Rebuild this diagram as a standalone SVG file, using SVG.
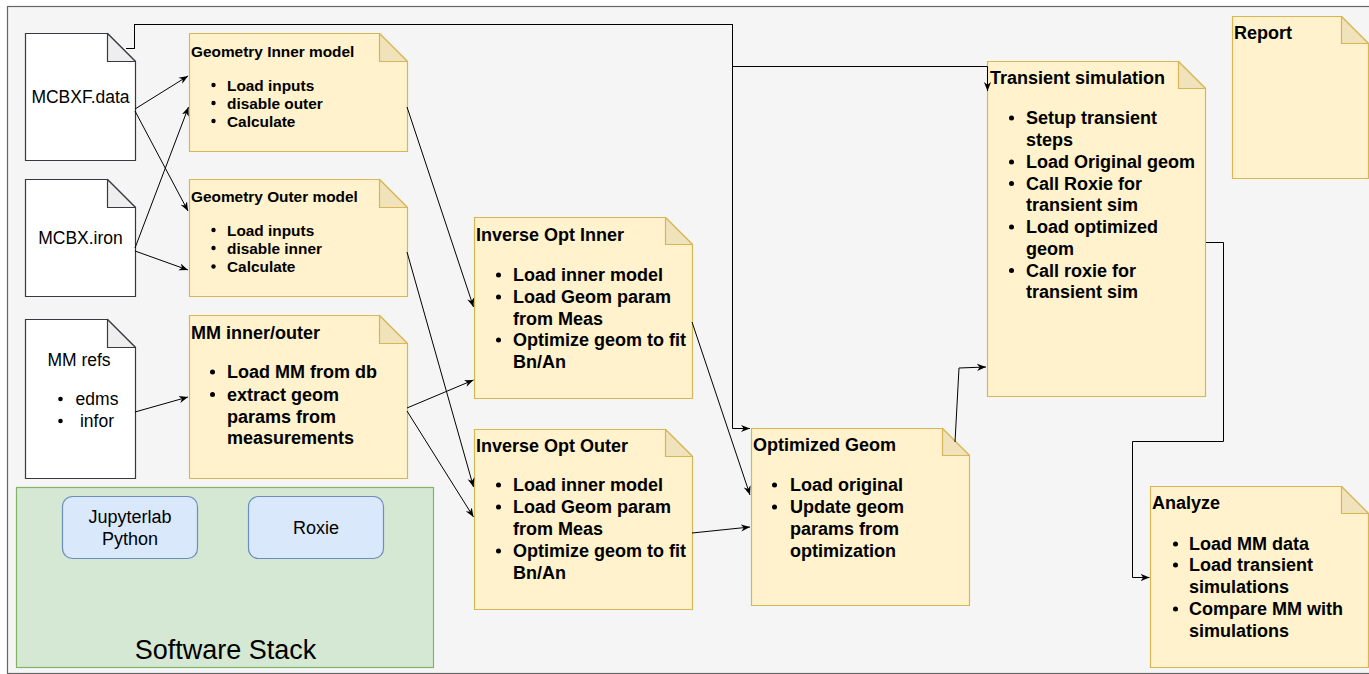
<svg xmlns="http://www.w3.org/2000/svg" width="1369" height="674" viewBox="0 0 1369 674">
  <style>
    text { font-family: "Liberation Sans", Arial, Helvetica, sans-serif; fill: #000; }
    .doc { fill: #ffffff; stroke: #36393d; stroke-width: 1.2; }
    .docfold { fill: #eeeeee; stroke: #36393d; stroke-width: 1.2; stroke-linejoin: round; }
    .note { fill: #fff2cc; stroke: #d6b656; stroke-width: 1.2; }
    .notefold { fill: #f0e2bb; stroke: #d6b656; stroke-width: 1.2; stroke-linejoin: round; }
    .tool { fill: #dae8fc; stroke: #6c8ebf; stroke-width: 1.2; }
    .t17 { font-size: 17.5px; }
    .t18 { font-size: 18px; }
    .b15 { font-size: 15.4px; font-weight: bold; }
    .b18 { font-size: 18px; font-weight: bold; }
    .mid { text-anchor: middle; }
    .dot { fill: #000; }
    .edge { fill: none; stroke: #000; stroke-width: 1; marker-end: url(#arrow); }
  </style>
  <defs>
    <marker id="arrow" viewBox="0 0 10 10" refX="10" refY="5" markerWidth="9" markerHeight="9" markerUnits="userSpaceOnUse" orient="auto">
      <path d="M0,1 L10,5 L0,9 L3,5 Z" fill="#000"/>
    </marker>
  </defs>

  <!-- page background -->
  <rect x="0" y="0" width="1369" height="674" fill="#ffffff"/>
  <rect x="7.5" y="6.5" width="1400" height="667" fill="#f5f5f5" stroke="#666666" stroke-width="1.2"/>

  <!-- software stack group -->
  <g id="software-stack">
    <rect x="16.5" y="487.5" width="417" height="180" fill="#d5e8d4" stroke="#82b366" stroke-width="1.2"/>
    <text x="225.5" y="659" class="mid" font-size="27px">Software Stack</text>
  </g>
  <g id="jupyterlab">
    <rect x="62.5" y="496.5" width="135" height="62" rx="10" class="tool"/>
    <text x="130" y="523" class="t18 mid">Jupyterlab</text>
    <text x="130" y="545" class="t18 mid">Python</text>
  </g>
  <g id="roxie">
    <rect x="248.5" y="496.5" width="135" height="62" rx="10" class="tool"/>
    <text x="316" y="534" class="t18 mid">Roxie</text>
  </g>

  <!-- input documents -->
  <g id="mcbxf-data">
    <path d="M25.5,33.5 H107.5 L135.5,61.5 V160.5 H25.5 Z" class="doc"/>
    <path d="M107.5,33.5 V61.5 H135.5 Z" class="docfold"/>
    <text x="80.5" y="103" class="t17 mid">MCBXF.data</text>
  </g>
  <g id="mcbx-iron">
    <path d="M25.5,179.5 H107.5 L135.5,207.5 V296.5 H25.5 Z" class="doc"/>
    <path d="M107.5,179.5 V207.5 H135.5 Z" class="docfold"/>
    <text x="80.5" y="244" class="t17 mid">MCBX.iron</text>
  </g>
  <g id="mm-refs">
    <path d="M25.5,319.5 H107.5 L135.5,347.5 V478.5 H25.5 Z" class="doc"/>
    <path d="M107.5,319.5 V347.5 H135.5 Z" class="docfold"/>
    <text x="79" y="366" class="t17 mid">MM refs</text>
    <circle cx="60.5" cy="399" r="2.3" class="dot"/>
    <text x="97" y="405" class="t17 mid">edms</text>
    <circle cx="60.5" cy="421" r="2.3" class="dot"/>
    <text x="97" y="427" class="t17 mid">infor</text>
  </g>

  <!-- geometry models -->
  <g id="geometry-inner">
    <path d="M189.5,33.5 H379.5 L407.5,61.5 V151.5 H189.5 Z" class="note"/>
    <path d="M379.5,33.5 V61.5 H407.5 Z" class="notefold"/>
    <text x="191" y="57" class="b15">Geometry Inner model</text>
    <circle cx="213.5" cy="85" r="2.2" class="dot"/>
    <text x="227" y="90.5" class="b15">Load inputs</text>
    <circle cx="213.5" cy="103" r="2.2" class="dot"/>
    <text x="227" y="108.5" class="b15">disable outer</text>
    <circle cx="213.5" cy="121" r="2.2" class="dot"/>
    <text x="227" y="126.5" class="b15">Calculate</text>
  </g>
  <g id="geometry-outer">
    <path d="M189.5,179.5 H379.5 L407.5,207.5 V296.5 H189.5 Z" class="note"/>
    <path d="M379.5,179.5 V207.5 H407.5 Z" class="notefold"/>
    <text x="191" y="202" class="b15">Geometry Outer model</text>
    <circle cx="213.5" cy="230" r="2.2" class="dot"/>
    <text x="227" y="235.5" class="b15">Load inputs</text>
    <circle cx="213.5" cy="248" r="2.2" class="dot"/>
    <text x="227" y="253.5" class="b15">disable inner</text>
    <circle cx="213.5" cy="266.5" r="2.2" class="dot"/>
    <text x="227" y="272" class="b15">Calculate</text>
  </g>
  <g id="mm-inner-outer">
    <path d="M189.5,315.5 H379.5 L407.5,343.5 V478.5 H189.5 Z" class="note"/>
    <path d="M379.5,315.5 V343.5 H407.5 Z" class="notefold"/>
    <text x="191" y="338.5" class="b18">MM inner/outer</text>
    <circle cx="212.5" cy="372" r="2.5" class="dot"/>
    <text x="227" y="378" class="b18">Load MM from db</text>
    <circle cx="212.5" cy="394.5" r="2.5" class="dot"/>
    <text x="227" y="400.5" class="b18">extract geom</text>
    <text x="227" y="422.5" class="b18">params from</text>
    <text x="227" y="444" class="b18">measurements</text>
  </g>

  <!-- inverse optimisation -->
  <g id="inverse-opt-inner">
    <path d="M474.5,217.5 H665.5 L692.5,244.5 V398.5 H474.5 Z" class="note"/>
    <path d="M665.5,217.5 V244.5 H692.5 Z" class="notefold"/>
    <text x="476" y="241" class="b18">Inverse Opt Inner</text>
    <circle cx="498.5" cy="275" r="2.5" class="dot"/>
    <text x="513" y="281" class="b18">Load inner model</text>
    <circle cx="498.5" cy="297" r="2.5" class="dot"/>
    <text x="513" y="303" class="b18">Load Geom param</text>
    <text x="513" y="324.5" class="b18">from Meas</text>
    <circle cx="498.5" cy="340" r="2.5" class="dot"/>
    <text x="513" y="346" class="b18">Optimize geom to fit</text>
    <text x="513" y="367.5" class="b18">Bn/An</text>
  </g>
  <g id="inverse-opt-outer">
    <path d="M474.5,429.5 H665.5 L692.5,456.5 V609.5 H474.5 Z" class="note"/>
    <path d="M665.5,429.5 V456.5 H692.5 Z" class="notefold"/>
    <text x="476" y="452" class="b18">Inverse Opt Outer</text>
    <circle cx="498.5" cy="485" r="2.5" class="dot"/>
    <text x="513" y="491" class="b18">Load inner model</text>
    <circle cx="498.5" cy="507" r="2.5" class="dot"/>
    <text x="513" y="513" class="b18">Load Geom param</text>
    <text x="513" y="534.5" class="b18">from Meas</text>
    <circle cx="498.5" cy="551" r="2.5" class="dot"/>
    <text x="513" y="557" class="b18">Optimize geom to fit</text>
    <text x="513" y="578.5" class="b18">Bn/An</text>
  </g>

  <!-- optimized geometry -->
  <g id="optimized-geom">
    <path d="M751.5,428.5 H942.5 L969.5,455.5 V605.5 H751.5 Z" class="note"/>
    <path d="M942.5,428.5 V455.5 H969.5 Z" class="notefold"/>
    <text x="753" y="451" class="b18">Optimized Geom</text>
    <circle cx="774.5" cy="485" r="2.5" class="dot"/>
    <text x="790" y="491" class="b18">Load original</text>
    <circle cx="774.5" cy="507" r="2.5" class="dot"/>
    <text x="790" y="513" class="b18">Update geom</text>
    <text x="790" y="535" class="b18">params from</text>
    <text x="790" y="557" class="b18">optimization</text>
  </g>

  <!-- transient simulation -->
  <g id="transient-simulation">
    <path d="M987.5,61.5 H1178.5 L1205.5,88.5 V396.5 H987.5 Z" class="note"/>
    <path d="M1178.5,61.5 V88.5 H1205.5 Z" class="notefold"/>
    <text x="990" y="84" class="b18">Transient simulation</text>
    <circle cx="1011.5" cy="118" r="2.5" class="dot"/>
    <text x="1026" y="124" class="b18">Setup transient</text>
    <text x="1026" y="146" class="b18">steps</text>
    <circle cx="1011.5" cy="162" r="2.5" class="dot"/>
    <text x="1026" y="168" class="b18">Load Original geom</text>
    <circle cx="1011.5" cy="183.5" r="2.5" class="dot"/>
    <text x="1026" y="189.5" class="b18">Call Roxie for</text>
    <text x="1026" y="211" class="b18">transient sim</text>
    <circle cx="1011.5" cy="227" r="2.5" class="dot"/>
    <text x="1026" y="233" class="b18">Load optimized</text>
    <text x="1026" y="254.5" class="b18">geom</text>
    <circle cx="1011.5" cy="270.5" r="2.5" class="dot"/>
    <text x="1026" y="276.5" class="b18">Call roxie for</text>
    <text x="1026" y="298" class="b18">transient sim</text>
  </g>

  <!-- report -->
  <g id="report">
    <path d="M1232.5,16.5 H1341.5 L1368.5,43.5 V178.5 H1232.5 Z" class="note"/>
    <path d="M1341.5,16.5 V43.5 H1368.5 Z" class="notefold"/>
    <text x="1234" y="38.5" class="b18">Report</text>
  </g>

  <!-- analyze -->
  <g id="analyze">
    <path d="M1150.5,486.5 H1341.5 L1368.5,513.5 V667.5 H1150.5 Z" class="note"/>
    <path d="M1341.5,486.5 V513.5 H1368.5 Z" class="notefold"/>
    <text x="1152" y="509" class="b18">Analyze</text>
    <circle cx="1175.5" cy="544" r="2.5" class="dot"/>
    <text x="1189" y="550" class="b18">Load MM data</text>
    <circle cx="1175.5" cy="565" r="2.5" class="dot"/>
    <text x="1189" y="571" class="b18">Load transient</text>
    <text x="1189" y="593" class="b18">simulations</text>
    <circle cx="1175.5" cy="609" r="2.5" class="dot"/>
    <text x="1189" y="615" class="b18">Compare MM with</text>
    <text x="1189" y="636.5" class="b18">simulations</text>
  </g>

  <!-- connectors -->
  <g id="connectors">
    <path d="M135,109 L188,76" class="edge"/>
    <path d="M135,111 L188,211" class="edge"/>
    <path d="M135,248 L188.5,107" class="edge"/>
    <path d="M135,251 L188,270" class="edge"/>
    <path d="M135,412 L188,397" class="edge"/>
    <path d="M407,107 L473.5,307" class="edge"/>
    <path d="M407,252 L473.5,487" class="edge"/>
    <path d="M407,408 L473.5,380" class="edge"/>
    <path d="M407,411 L473.5,517" class="edge"/>
    <path d="M692,322 L750,495" class="edge"/>
    <path d="M692,533 L750,527" class="edge"/>
    <path d="M955,442 L959,368 L986,367" class="edge"/>
    <path d="M126,48.5 H134.5 V24.5 H732.5 V66.5 H987.5 V91" class="edge" stroke="#333"/>
    <path d="M126,48.5 H134.5 V24.5 H732.5 V428.5 H750" class="edge" stroke="#333"/>
    <path d="M1206,242.5 H1223.5 V441.5 H1132.5 V577.5 H1149.5" class="edge" stroke="#333"/>
  </g>
</svg>
